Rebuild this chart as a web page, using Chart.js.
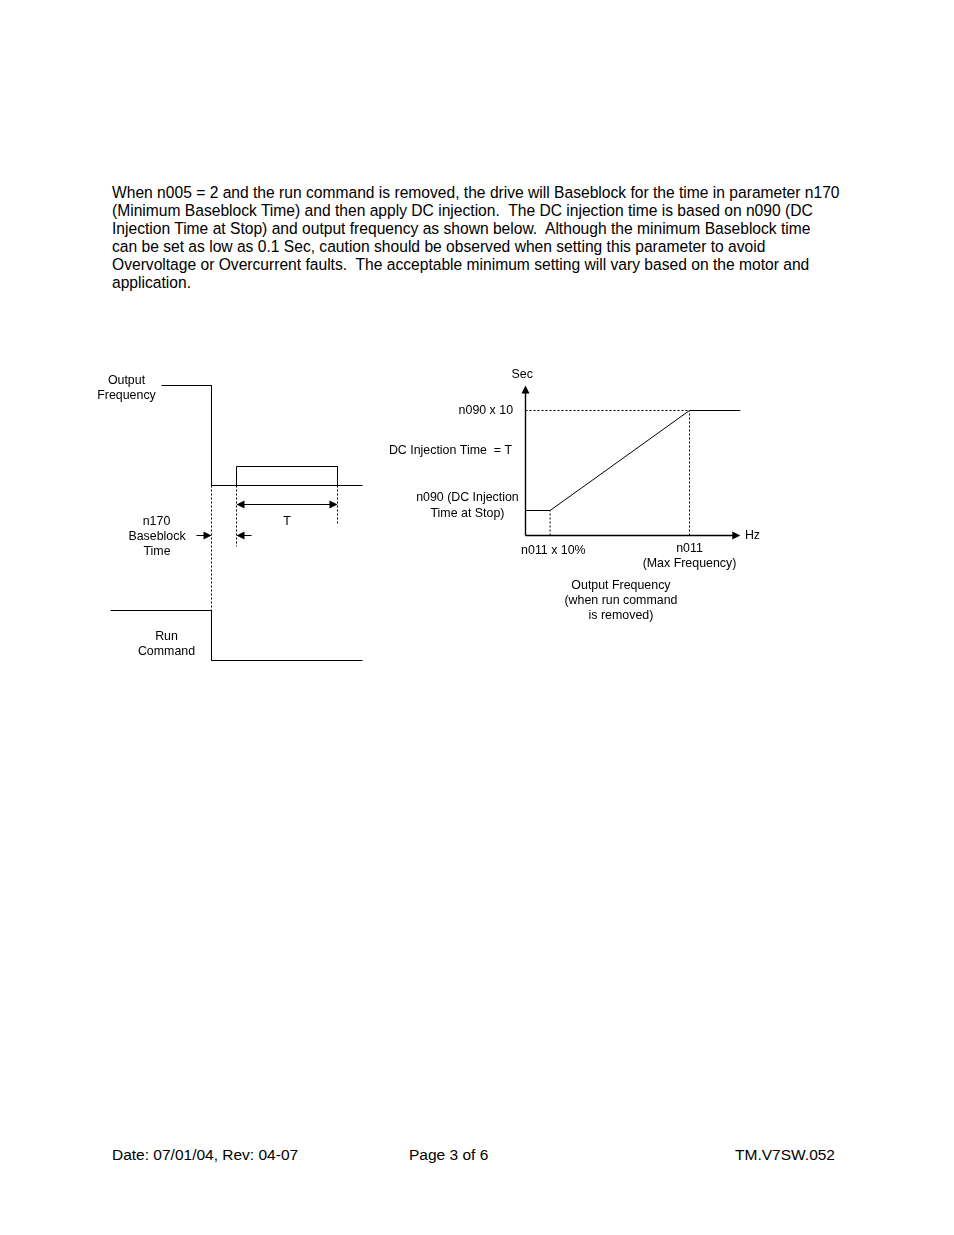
<!DOCTYPE html>
<html><head><meta charset="utf-8">
<script src="https://cdn.jsdelivr.net/npm/chart.js@4.4.1/dist/chart.umd.min.js"></script>
<style>
html,body{margin:0;padding:0;background:#fff;}
body{width:954px;height:1235px;position:relative;overflow:hidden;font-family:"Liberation Sans",Arial,sans-serif;color:#000;}
.t{position:absolute;white-space:pre;font-size:15.5px;line-height:18px;}
canvas{position:absolute;}
</style></head><body>
<div id="para"></div>
<canvas id="left" width="290" height="320" style="left:90px;top:360px"></canvas>
<canvas id="right" width="390" height="270" style="left:380px;top:360px"></canvas>
<div id="foot"></div>
<script>
// ---------- text content ----------
const paragraphLines = [
  "When n005 = 2 and the run command is removed, the drive will Baseblock for the time in parameter n170",
  "(Minimum Baseblock Time) and then apply DC injection.  The DC injection time is based on n090 (DC",
  "Injection Time at Stop) and output frequency as shown below.  Although the minimum Baseblock time",
  "can be set as low as 0.1 Sec, caution should be observed when setting this parameter to avoid",
  "Overvoltage or Overcurrent faults.  The acceptable minimum setting will vary based on the motor and",
  "application."
];
const footerTexts = ["Date: 07/01/04, Rev: 04-07", "Page 3 of 6", "TM.V7SW.052"];

// ---------- left timing diagram data (time units, output level %) ----------
const freqTime = [51, 101, 101, 252];
const outputFrequency = [100, 100, 0, 0];
const dcTime = [126, 126, 227, 227];
const dcInjection = [0, 19, 19, 0];
const runTime = [0, 101, 101, 252];
const runCommand = [1, 1, 0, 0];
const baseblockStart = 101, dcStart = 126, dcEnd = 227;

// ---------- right characteristic data (Hz as % of n011, Sec in n090 units) ----------
const hz = [0, 15, 100, 131];
const sec = [2, 2, 10, 10];
const hzTickValues = [15, 100];
const secTickValues = [2, 10];

// ---------- paragraph & footer ----------
const para = document.getElementById('para');
const lineTops = [184, 202, 220, 238, 256, 274];
paragraphLines.forEach((s, i) => {
  const d = document.createElement('div');
  d.className = 't'; d.textContent = s;
  d.style.left = '112px'; d.style.top = lineTops[i] + 'px';
  para.appendChild(d);
});
(function(){
  const first = para.firstChild;
  const w = first.getBoundingClientRect().width;
  const fs = 15.5 * 728 / w;
  para.querySelectorAll('.t').forEach(d => d.style.fontSize = fs + 'px');
})();
const foot = document.getElementById('foot');
[[112,'left'],[409,'left'],[835,'right']].forEach((p, i) => {
  const d = document.createElement('div');
  d.className = 't'; d.textContent = footerTexts[i];
  d.style.top = '1146px';
  if (p[1] === 'left') d.style.left = p[0] + 'px';
  else d.style.right = (954 - p[0]) + 'px';
  foot.appendChild(d);
});

// ---------- helpers ----------
const FONT = '12.4px "Liberation Sans", Arial, sans-serif';
function pts(xs, ys){ return xs.map((x, i) => ({x, y: ys[i]})); }
function arrowHead(ctx, tx, ty, dx, dy){
  const L = 8, W = 4;
  const bx = tx - dx * L, by = ty - dy * L;
  ctx.beginPath();
  ctx.moveTo(tx, ty);
  ctx.lineTo(bx - dy * W, by + dx * W);
  ctx.lineTo(bx + dy * W, by - dx * W);
  ctx.closePath(); ctx.fill();
}
function dotted(ctx, x1, y1, x2, y2){
  ctx.save(); ctx.setLineDash([2, 2]); ctx.lineWidth = 1;
  ctx.beginPath(); ctx.moveTo(x1, y1); ctx.lineTo(x2, y2); ctx.stroke(); ctx.restore();
}
function line(ctx, x1, y1, x2, y2){
  ctx.beginPath(); ctx.moveTo(x1, y1); ctx.lineTo(x2, y2); ctx.stroke();
}
function label(ctx, text, x, y, align){
  ctx.textAlign = align || 'center'; ctx.textBaseline = 'middle';
  ctx.fillText(text, x, y);
}
const ds = (data, extra) => Object.assign({data, borderColor:'#000', borderWidth:1, pointRadius:0, tension:0, fill:false}, extra || {});
const baseOpts = {
  responsive:false, animation:false, events:[],
  layout:{padding:0},
  plugins:{legend:{display:false}, tooltip:{enabled:false}, title:{display:false}},
};

// ---------- left chart ----------
const leftPlugin = {
  id:'leftDecor',
  afterDraw(chart){
    const {ctx, scales:{x, y, y2}} = chart;
    ctx.save();
    ctx.strokeStyle = '#000'; ctx.fillStyle = '#000'; ctx.lineWidth = 1;
    const X = v => x.getPixelForValue(v), Y = v => y.getPixelForValue(v);
    dotted(ctx, X(baseblockStart), Y(0), X(baseblockStart), y2.getPixelForValue(1));
    dotted(ctx, X(dcStart), Y(0), X(dcStart), Y(-61));
    dotted(ctx, X(dcEnd), Y(0), X(dcEnd), Y(-38));
    line(ctx, X(dcStart) + 6, Y(-19), X(dcEnd) - 6, Y(-19));
    arrowHead(ctx, X(dcStart), Y(-19), -1, 0);
    arrowHead(ctx, X(dcEnd), Y(-19), 1, 0);
    line(ctx, X(baseblockStart - 15), Y(-50), X(baseblockStart) - 6, Y(-50));
    arrowHead(ctx, X(baseblockStart), Y(-50), 1, 0);
    line(ctx, X(dcStart) + 6, Y(-50), X(dcStart + 15), Y(-50));
    arrowHead(ctx, X(dcStart), Y(-50), -1, 0);
    ctx.font = FONT;
    label(ctx, 'Output', X(16), Y(105));
    label(ctx, 'Frequency', X(16), Y(90));
    label(ctx, 'n170', X(46), Y(-36));
    label(ctx, 'Baseblock', X(46.5), Y(-51));
    label(ctx, 'Time', X(46.5), Y(-66));
    label(ctx, 'T', X(176.5), Y(-36));
    label(ctx, 'Run', X(56), y2.getPixelForValue(1) + 26.5);
    label(ctx, 'Command', X(56), y2.getPixelForValue(1) + 41.5);
    ctx.restore();
  }
};
new Chart(document.getElementById('left'), {
  type:'line',
  data:{datasets:[
    ds(pts(freqTime, outputFrequency)),
    ds(pts(dcTime, dcInjection)),
    ds(pts(runTime, runCommand), {yAxisID:'y2'})
  ]},
  options:Object.assign({}, baseOpts, {
    scales:{
      x:{type:'linear', display:false, min:-20.5, max:269.5},
      y:{type:'linear', display:false, min:-194.5, max:125.5},
      y2:{type:'linear', display:false, min:-0.39, max:6.01}
    }
  }),
  plugins:[leftPlugin]
});

// ---------- right chart ----------
const rightPlugin = {
  id:'rightDecor',
  beforeDatasetsDraw(chart){
    const {ctx, scales:{x, y}} = chart;
    const X = v => x.getPixelForValue(v), Y = v => y.getPixelForValue(v);
    ctx.save();
    ctx.strokeStyle = '#000'; ctx.fillStyle = '#000'; ctx.lineWidth = 1;
    ctx.save(); ctx.lineWidth = 1.4;
    line(ctx, X(0), Y(0), X(0), Y(12) + 6);
    line(ctx, X(0), Y(0), X(131) - 6, Y(0));
    ctx.restore();
    arrowHead(ctx, X(0), Y(12), 0, -1);
    arrowHead(ctx, X(131), Y(0), 1, 0);
    dotted(ctx, X(0), Y(secTickValues[1]), X(hzTickValues[1]), Y(secTickValues[1]));
    dotted(ctx, X(hzTickValues[0]), Y(0), X(hzTickValues[0]), Y(secTickValues[0]));
    dotted(ctx, X(hzTickValues[1]), Y(0), X(hzTickValues[1]), Y(secTickValues[1]));
    ctx.font = FONT;
    label(ctx, 'Sec', X(-2), Y(12.85));
    label(ctx, 'Hz', X(133.8), Y(0), 'left');
    label(ctx, 'n090 x 10', X(-7.6), Y(10), 'right');
    label(ctx, 'DC Injection Time  = T', X(-8.2), Y(6.78), 'right');
    label(ctx, 'n090 (DC Injection', X(-35.4), Y(3.0));
    label(ctx, 'Time at Stop)', X(-35.4), Y(1.76));
    label(ctx, 'n011 x 10%', X(17), Y(-1.24));
    label(ctx, 'n011', X(100), Y(-1.08));
    label(ctx, '(Max Frequency)', X(100), Y(-2.28));
    label(ctx, 'Output Frequency', X(58.2), Y(-4.04));
    label(ctx, '(when run command', X(58.2), Y(-5.24));
    label(ctx, 'is removed)', X(58.2), Y(-6.44));
    ctx.restore();
  }
};
new Chart(document.getElementById('right'), {
  type:'line',
  data:{datasets:[ ds(pts(hz, sec)) ]},
  options:Object.assign({}, baseOpts, {
    scales:{
      x:{type:'linear', display:false, min:-88.72, max:149.09},
      y:{type:'linear', display:false, min:-7.56, max:14.04}
    }
  }),
  plugins:[rightPlugin]
});
</script>
</body></html>
